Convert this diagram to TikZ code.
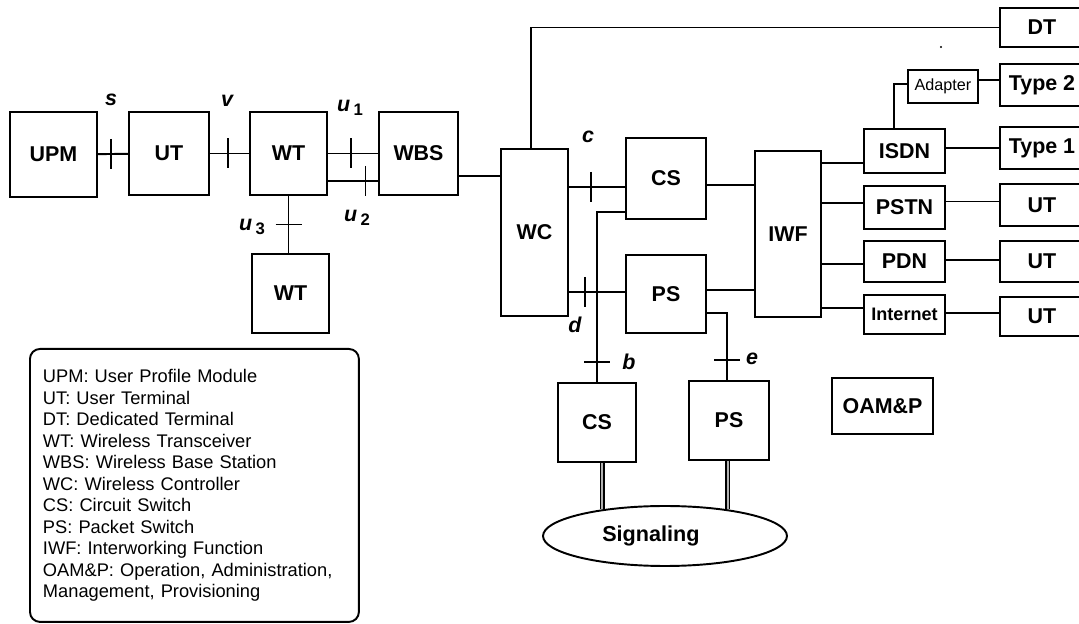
\documentclass[tikz,border=0pt]{standalone}
\usepackage{fontspec}
\setmainfont{Liberation Sans}
\usepackage{tikz}
\usetikzlibrary{positioning, shapes, calc}

\newcommand{\subnum}[1]{\raisebox{-0.35ex}{\fontsize{9.5}{10}\selectfont\upshape #1}}

\begin{document}
\begin{tikzpicture}[x=0.02cm, y=-0.02cm, line width=1.1pt,
    blk/.style={draw, rectangle, inner sep=0pt, font=\fontsize{12.2}{14}\selectfont\bfseries},
    lbl/.style={inner sep=0pt, font=\fontsize{12.2}{14}\selectfont\bfseries\itshape},
    sigline/.style={double=gray!60, double distance=0.9pt, line width=0.9pt},
    vbar/.pic={\draw (0,-15) -- (0,15);},
    hbar/.pic={\draw (-13,0) -- (13,0);}]
    \useasboundingbox (0,0) rectangle (1079,624);
    \clip (0,0) rectangle (1079,624);

    % left chain
    \node[blk, minimum width=1.74cm, minimum height=1.7cm] (upm) at (53.5, 154.5) {UPM};
    \node[blk, minimum width=1.6cm, minimum height=1.66cm] (ut) at (169, 153.5) {UT};
    \node[blk, minimum width=1.54cm, minimum height=1.66cm] (wt) at (288.5, 153.5) {WT};
    \node[blk, minimum width=1.58cm, minimum height=1.66cm] (wbs) at (418.5, 153.5) {WBS};
    \node[blk, minimum width=1.54cm, minimum height=1.58cm] (wt2) at (290.5, 293.5) {WT};

    % switching
    \node[blk, minimum width=1.34cm, minimum height=3.34cm] (wc) at (534.5, 232.5) {WC};
    \node[blk, minimum width=1.6cm, minimum height=1.62cm] (cs) at (666, 178.5) {CS};
    \node[blk, minimum width=1.6cm, minimum height=1.56cm] (ps) at (666, 294) {PS};
    \node[blk, minimum width=1.32cm, minimum height=3.32cm] (iwf) at (788, 234) {IWF};
    \node[blk, minimum width=1.56cm, minimum height=1.58cm] (cs2) at (597, 422.5) {CS};
    \node[blk, minimum width=1.6cm, minimum height=1.58cm] (ps2) at (729, 420.5) {PS};
    \node[blk, minimum width=2.02cm, minimum height=1.12cm] (oamp) at (882.5, 406) {OAM\&P};
    \node[draw, ellipse, inner sep=0pt, minimum width=4.88cm, minimum height=1.2cm,
        font=\fontsize{12.3}{14}\selectfont\bfseries] (sig) at (665, 536) {Signaling\hspace*{16pt}};

    % networks
    \node[blk, minimum width=1.62cm, minimum height=0.88cm] (isdn) at (904.5, 151) {ISDN};
    \node[blk, minimum width=1.62cm, minimum height=0.86cm] (pstn) at (904.5, 207.5) {PSTN};
    \node[blk, minimum width=1.62cm, minimum height=0.82cm] (pdn) at (904.5, 261.5) {PDN};
    \node[blk, minimum width=1.62cm, minimum height=0.78cm,
        font=\fontsize{10.3}{12}\selectfont\bfseries] (inet) at (904.5, 314.5) {Internet};
    \node[blk, minimum width=1.4cm, minimum height=0.66cm,
        font=\fontsize{9.2}{11}\selectfont] (adapter) at (943, 86.5) {Adapter};

    % terminals
    \node[blk, minimum width=1.68cm, minimum height=0.78cm] (dt) at (1042, 27.5) {DT};
    \node[blk, minimum width=1.68cm, minimum height=0.84cm] (type2) at (1042, 85) {Type 2};
    \node[blk, minimum width=1.68cm, minimum height=0.84cm] (type1) at (1042, 148) {Type 1};
    \node[blk, minimum width=1.68cm, minimum height=0.84cm] (ut3) at (1042, 205) {UT};
    \node[blk, minimum width=1.68cm, minimum height=0.82cm] (ut4) at (1042, 261.5) {UT};
    \node[blk, minimum width=1.68cm, minimum height=0.78cm] (ut5) at (1042, 316.5) {UT};
    \fill (941, 47) circle (1.2);

    % reference points
    \node[lbl] (ls) at (111, 100) {s};
    \node[lbl] (lv) at (227, 101) {v};
    \node[lbl] (lu1) at (350, 108) {u\,\subnum{1}};
    \node[lbl] (lu2) at (357, 218) {u\,\subnum{2}};
    \node[lbl] (lu3) at (252, 227) {u\,\subnum{3}};
    \node[lbl] (lc) at (588, 137) {c};
    \node[lbl] (ld) at (575, 325) {d};
    \node[lbl] (lb) at (629, 362) {b};
    \node[lbl] (le) at (752, 359) {e};

    \draw (upm) -- pic[pos=.44]{vbar} (ut);
    \draw (ut) -- pic[pos=.46]{vbar} (wt);
    \draw (wt) -- pic[pos=.46]{vbar} (wbs);
    \draw ($(wt.east)+(0,27.5)$) -- pic[pos=.75]{vbar} ($(wbs.west)+(0,27.5)$);
    \draw (wt.south) -- pic[pos=.5]{hbar} (wt.south |- wt2.north);
    \draw ($(wbs.east)+(0,22.5)$) coordinate (w1) -- (w1 -| wc.west);
    \draw ($(wc.north)+(-3.5,0)$) |- (dt.west);

    \draw ($(cs.west)+(0,8.5)$) coordinate (c1) -- pic[pos=.6]{vbar} (c1 -| wc.east);
    \draw ($(ps.west)+(0,-2)$) coordinate (p1) -- pic[pos=.72]{vbar} (p1 -| wc.east);
    \draw ($(cs.east)+(0,6.5)$) coordinate (c2) -- (c2 -| iwf.west);
    \draw ($(ps.east)+(0,-4)$) coordinate (p2) -- (p2 -| iwf.west);
    \draw ($(cs.west)+(0,33.5)$) -| pic[pos=.94]{hbar} (cs2.north);
    \draw ($(ps.east)+(0,19)$) -| pic[pos=.85]{hbar} ($(ps2.north)+(-2,0)$);
    \draw[sigline] (sig.157) -- (sig.157 |- cs2.south);
    \draw[sigline] (sig.23) -- (sig.23 |- ps2.south);

    \draw ($(isdn.west)+(0,12)$) coordinate (i1) -- (i1 -| iwf.east);
    \draw ($(pstn.west)+(0,-4.5)$) coordinate (i2) -- (i2 -| iwf.east);
    \draw ($(pdn.west)+(0,2.5)$) coordinate (i3) -- (i3 -| iwf.east);
    \draw ($(inet.west)+(0,-6.5)$) coordinate (i4) -- (i4 -| iwf.east);
    \draw (type1.west) -- (type1.west -| isdn.east);
    \draw ($(pstn.east)+(0,-6)$) coordinate (r2) -- (r2 -| ut3.west);
    \draw ($(pdn.east)+(0,-1.5)$) coordinate (r3) -- (r3 -| ut4.west);
    \draw ($(inet.east)+(0,-1.5)$) coordinate (r4) -- (r4 -| ut5.west);
    \draw ($(isdn.north)+(-10.5,0)$) |- ($(adapter.west)+(0,-2.5)$);
    \draw ($(adapter.east)+(0,-6.5)$) coordinate (a1) -- (a1 -| type2.west);

    % key
    \node[draw, rounded corners=0.2cm, anchor=north west, minimum width=6.58cm,
        minimum height=5.46cm, text width=6.06cm, inner xsep=0.26cm, align=left,
        font=\fontsize{10.4}{12.25}\selectfont] (key) at (29, 348)
        {UPM: User Profile Module\\
         UT: User Terminal\\
         DT: Dedicated Terminal\\
         WT: Wireless Transceiver\\
         WBS: Wireless Base Station\\
         WC: Wireless Controller\\
         CS: Circuit Switch\\
         PS: Packet Switch\\
         IWF: Interworking Function\\
         OAM\&P: Operation, Administration,\\
         Management, Provisioning};
\end{tikzpicture}
\end{document}
